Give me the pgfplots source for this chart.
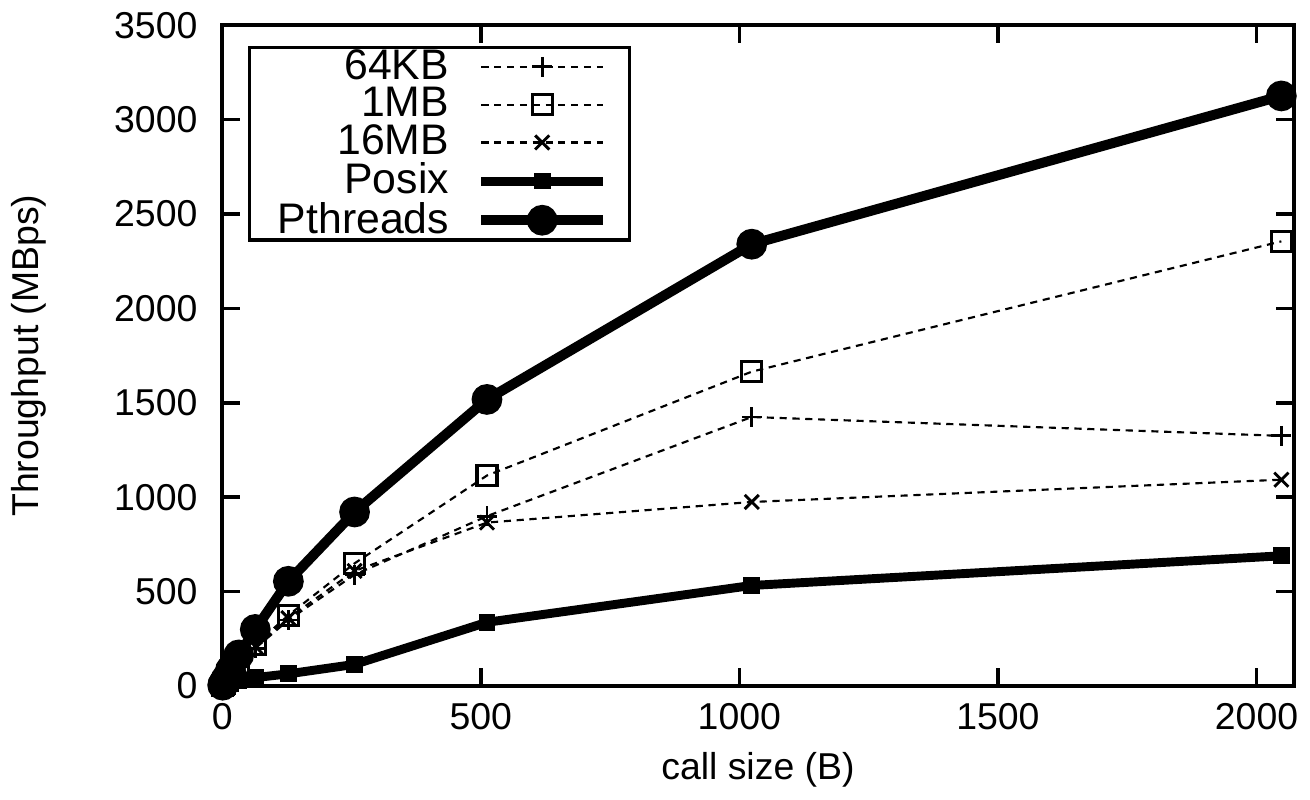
\documentclass[border=0pt]{standalone}
\usepackage{fontspec}
\setmainfont{Liberation Sans}
\usepackage{pgfplots}
\pgfplotsset{compat=1.18}

\begin{document}
\begin{tikzpicture}
\begin{axis}[
  scale only axis,
  width=10.57cm, height=6.52cm,
  xmin=0, xmax=2072,
  ymin=0, ymax=3500,
  xtick={0,500,1000,1500,2000},
  ytick={0,500,1000,1500,2000,2500,3000,3500},
  scaled ticks=false,
  /pgf/number format/1000 sep={},
  /pgf/number format/assume math mode=true,
  font=\fontsize{10.5}{12}\selectfont,
  tick label style={font=\fontsize{10.5}{12}\selectfont},
  yticklabel style={xshift=-0.12cm},
  xticklabel style={yshift=-0.05cm},
  tick align=inside,
  major tick length=0.18cm,
  every tick/.style={line width=1pt, black},
  axis line style={line width=1pt},
  xlabel={call size (B)},
  ylabel={Throughput (MBps)},
  xlabel style={at={(axis description cs:0.5,-0.127)}, anchor=center},
  ylabel style={at={(axis description cs:-0.18,0.5)}, anchor=center},
  legend cell align=right,
  legend plot pos=right,
  legend style={at={(axis description cs:0.0237,0.969)}, anchor=north west,
    line width=1pt, inner xsep=6pt, inner ysep=-1.5pt,
    font=\fontsize{12}{13}\selectfont, row sep=-3.2pt,
    /tikz/every odd column/.append style={column sep=0.2cm}},
  legend image code/.code={%
    \draw[mark repeat=2, mark phase=2, #1] plot coordinates {(0cm,0cm) (0.6cm,0cm) (1.2cm,0cm)};},
]
% 64KB
\addplot[black, line width=0.6pt, dash pattern=on 2pt off 1.6pt, mark=+, mark size=2.8pt,
  mark options={solid, line width=0.8pt}] coordinates {
  (1,4) (2,7) (4,14) (8,28) (16,55) (32,110) (64,200) (128,350) (256,590) (512,900) (1024,1425) (2048,1325)};
\addlegendentry{64KB}
% 1MB
\addplot[black, line width=0.6pt, dash pattern=on 2pt off 1.6pt, mark=square, mark size=2.8pt,
  mark options={solid, line width=0.9pt}] coordinates {
  (1,4) (2,8) (4,15) (8,30) (16,60) (32,120) (64,220) (128,375) (256,650) (512,1115) (1024,1665) (2048,2355)};
\addlegendentry{1MB}
% 16MB
\addplot[black, line width=0.6pt, dash pattern=on 2pt off 1.6pt, mark=x, mark size=2.8pt,
  mark options={solid, line width=0.8pt}] coordinates {
  (1,4) (2,7) (4,14) (8,28) (16,55) (32,110) (64,210) (128,360) (256,610) (512,866) (1024,975) (2048,1093)};
\addlegendentry{16MB}
% Posix
\addplot[black, line width=2.5pt, mark=square*, mark size=1.1pt] coordinates {
  (1,1) (2,2) (4,4) (8,8) (16,15) (32,28) (64,45) (128,65) (256,115) (512,338) (1024,533) (2048,690)};
\addlegendentry{Posix}
% Pthreads
\addplot[black, line width=2.8pt, mark=*, mark size=2.9pt] coordinates {
  (1,5) (2,10) (4,20) (8,40) (16,85) (32,165) (64,300) (128,555) (256,922) (512,1518) (1024,2340) (2048,3125)};
\addlegendentry{Pthreads}
\end{axis}
\end{tikzpicture}
\end{document}
